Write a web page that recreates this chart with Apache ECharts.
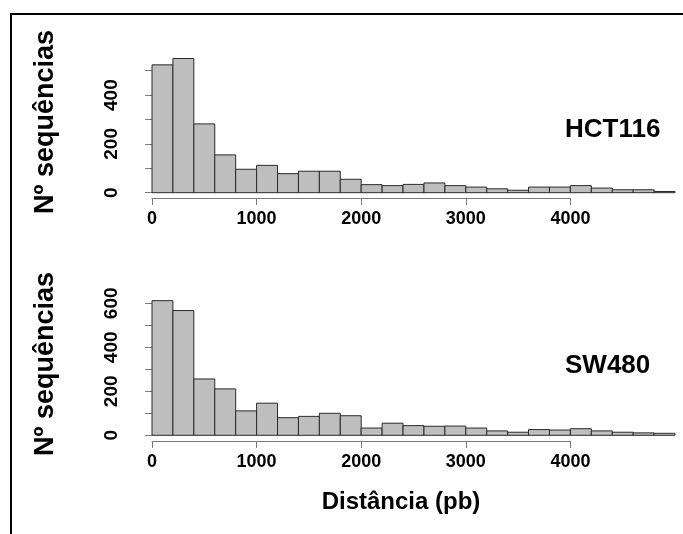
<!DOCTYPE html>
<html>
<head>
<meta charset="utf-8">
<script src="https://cdn.jsdelivr.net/npm/echarts@6/dist/echarts.min.js"></script>
<style>
html,body{margin:0;padding:0;background:#fff;}
#chart{width:683px;height:534px;}
</style>
</head>
<body>
<div id="chart"></div>
<script>
// Histogram bins (bin start, width 200 pb)
const binStarts = [0,200,400,600,800,1000,1200,1400,1600,1800,2000,2200,2400,2600,2800,3000,3200,3400,3600,3800,4000,4200,4400,4600,4800];
const binWidth = 200;
// Counts per bin
const hct116Counts = [524,550,282,155,96,112,78,88,88,55,33,29,34,40,29,23,16,10,23,23,29,19,12,12,5];
const sw480Counts  = [612,567,256,211,111,146,80,86,100,89,33,55,44,41,42,33,20,14,26,24,30,20,14,11,9];
// Axis ticks
const xTicks = [0,1000,2000,3000,4000];
const panelNames = ['HCT116','SW480'];
const yTitle = 'Nº sequências';
const xTitle = 'Distância (pb)';

const FONT = 'Liberation Sans';
const axisGray = '#7a7a7a';

function histData(counts){
  return binStarts.map((s,i)=>[s, s+binWidth, counts[i]]);
}
function renderBar(params, api){
  const p0 = api.coord([api.value(0), api.value(2)]);
  const p1 = api.coord([api.value(1), 0]);
  return {
    type:'rect',
    shape:{x:p0[0], y:p0[1], width:p1[0]-p0[0], height:p1[1]-p0[1]},
    style:{fill:'#bebebe', stroke:'#2a2a2a', lineWidth:1}
  };
}
function yAxisCfg(grid, max){
  return {
    type:'value', gridIndex:grid, min:0, max:max, interval:100,
    offset:20,
    axisLine:{show:true, lineStyle:{color:axisGray, width:1}},
    axisTick:{show:true, length:7, lineStyle:{color:axisGray}},
    splitLine:{show:false},
    axisLabel:{rotate:90, margin:11, fontFamily:FONT, fontWeight:'bold', fontSize:19, color:'#000',
      formatter:v => (v % 200 === 0 ? String(v) : '')}
  };
}
function xVisibleCfg(grid){
  return {
    type:'value', gridIndex:grid, min:xTicks[0], max:xTicks[xTicks.length-1], interval:xTicks[1]-xTicks[0],
    position:'bottom',
    axisLine:{show:true, onZero:false, lineStyle:{color:axisGray, width:1}},
    axisTick:{show:true, length:7, lineStyle:{color:axisGray}},
    splitLine:{show:false},
    axisLabel:{margin:12, fontFamily:FONT, fontWeight:'bold', fontSize:18, color:'#000',
      formatter:v => String(v)}
  };
}
function xHiddenCfg(grid){
  return {type:'value', gridIndex:grid, min:0, max:5000, show:false, splitLine:{show:false}};
}

const chart = echarts.init(document.getElementById('chart'), null, {renderer:'canvas'});
chart.setOption({
  animation:false,
  backgroundColor:'#fff',
  grid:[
    {left:152, width:523, top:70.7, height:122},
    {left:152, width:418.4, top:188, height:10},
    {left:152, width:523, top:303.3, height:132},
    {left:152, width:418.4, top:431, height:10}
  ],
  xAxis:[xHiddenCfg(0), xVisibleCfg(1), xHiddenCfg(2), xVisibleCfg(3)],
  yAxis:[
    yAxisCfg(0, 500),
    {type:'value', gridIndex:1, show:false, min:0, max:1, splitLine:{show:false}},
    yAxisCfg(2, 600),
    {type:'value', gridIndex:3, show:false, min:0, max:1, splitLine:{show:false}}
  ],
  series:[
    {type:'custom', name:panelNames[0], xAxisIndex:0, yAxisIndex:0, clip:false, renderItem:renderBar,
     encode:{x:[0,1], y:2}, data:histData(hct116Counts)},
    {type:'custom', name:panelNames[1], xAxisIndex:2, yAxisIndex:2, clip:false, renderItem:renderBar,
     encode:{x:[0,1], y:2}, data:histData(sw480Counts)}
  ],
  graphic:[
    {type:'rect', shape:{x:11, y:14, width:700, height:560}, style:{fill:'none', stroke:'#000', lineWidth:2}, silent:true},
    {type:'text', x:46, y:122, rotation:Math.PI/2,
     style:{text:yTitle, font:'bold 27px "Liberation Sans"', fill:'#000', textAlign:'center', textVerticalAlign:'middle'}},
    {type:'text', x:46, y:364, rotation:Math.PI/2,
     style:{text:yTitle, font:'bold 27px "Liberation Sans"', fill:'#000', textAlign:'center', textVerticalAlign:'middle'}},
    {type:'text', x:565, y:130,
     style:{text:panelNames[0], font:'bold 26px "Liberation Sans"', fill:'#000', textAlign:'left', textVerticalAlign:'middle'}},
    {type:'text', x:565, y:366,
     style:{text:panelNames[1], font:'bold 26px "Liberation Sans"', fill:'#000', textAlign:'left', textVerticalAlign:'middle'}},
    {type:'text', x:401, y:502,
     style:{text:xTitle, font:'bold 24px "Liberation Sans"', fill:'#000', textAlign:'center', textVerticalAlign:'middle'}}
  ]
});
</script>
</body>
</html>
